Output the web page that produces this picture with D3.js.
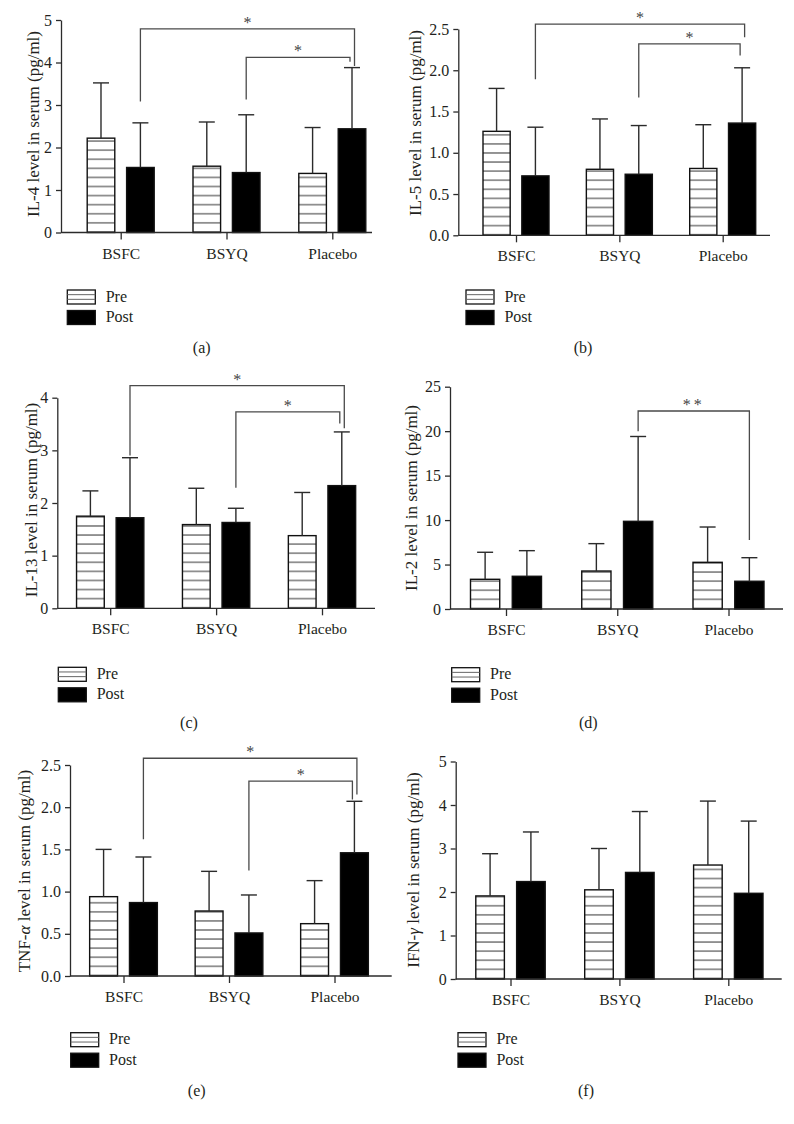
<!DOCTYPE html>
<html>
<head>
<meta charset="utf-8">
<script src="https://cdn.jsdelivr.net/npm/d3@7"></script>
<style>
  body { margin: 0; background: #fff; }
  svg { display: block; }
  text { font-family: "Liberation Serif", "Times New Roman", serif; fill: #231f20; }
</style>
</head>
<body>
<svg id="chart" width="794" height="1124"></svg>
<script>
// ---------------- DATA ----------------
const categories = ["BSFC", "BSYQ", "Placebo"];
const seriesNames = ["Pre", "Post"];

// (a) IL-4
const il4Pre = [2.22, 1.56, 1.39];
const il4PreSD = [1.30, 1.04, 1.08];
const il4Post = [1.53, 1.41, 2.44];
const il4PostSD = [1.05, 1.36, 1.44];
const il4Ticks = [0, 1, 2, 3, 4, 5];
// [from, to, top, leftEnd, rightEnd, label]
const il4Brackets = [["BSFC", "Placebo", 4.79, 3.08, 3.92, "*"], ["BSYQ", "Placebo", 4.12, 3.13, 4.02, "*"]];

// (b) IL-5
const il5Pre = [1.26, 0.80, 0.81];
const il5PreSD = [0.52, 0.61, 0.53];
const il5Post = [0.72, 0.74, 1.36];
const il5PostSD = [0.59, 0.59, 0.67];
const il5Ticks = [0, 0.5, 1.0, 1.5, 2.0, 2.5];
const il5Brackets = [["BSFC", "Placebo", 2.56, 1.89, 2.40, "*"], ["BSYQ", "Placebo", 2.32, 1.67, 2.18, "*"]];

// (c) IL-13
const il13Pre = [1.75, 1.59, 1.38];
const il13PreSD = [0.48, 0.69, 0.82];
const il13Post = [1.72, 1.63, 2.33];
const il13PostSD = [1.14, 0.27, 1.02];
const il13Ticks = [0, 1, 2, 3, 4];
const il13Brackets = [["BSFC", "Placebo", 4.23, 2.90, 3.42, "*"], ["BSYQ", "Placebo", 3.73, 2.29, 3.51, "*"]];

// (d) IL-2
const il2Pre = [3.34, 4.27, 5.25];
const il2PreSD = [3.04, 3.08, 3.97];
const il2Post = [3.68, 9.86, 3.12];
const il2PostSD = [2.88, 9.54, 2.65];
const il2Ticks = [0, 5, 10, 15, 20, 25];
const il2Brackets = [["BSYQ", "Placebo", 22.27, 20.0, 7.76, "**"]];

// (e) TNF-alpha
const tnfPre = [0.94, 0.77, 0.62];
const tnfPreSD = [0.56, 0.47, 0.51];
const tnfPost = [0.87, 0.51, 1.46];
const tnfPostSD = [0.54, 0.45, 0.61];
const tnfTicks = [0, 0.5, 1.0, 1.5, 2.0, 2.5];
const tnfBrackets = [["BSFC", "Placebo", 2.58, 1.62, 2.15, "*"], ["BSYQ", "Placebo", 2.31, 1.25, 2.09, "*"]];

// (f) IFN-gamma
const ifnPre = [1.91, 2.05, 2.62];
const ifnPreSD = [0.97, 0.95, 1.47];
const ifnPost = [2.24, 2.45, 1.97];
const ifnPostSD = [1.14, 1.40, 1.66];
const ifnTicks = [0, 1, 2, 3, 4, 5];
const ifnBrackets = [];

// ---------------- LAYOUT ----------------
const panels = [
  { key: "a", label: [["IL-4 level in serum (pg/ml)", false]], mean: [il4Pre, il4Post], sd: [il4PreSD, il4PostSD], ticks: il4Ticks, fmt: d3.format("d"), brackets: il4Brackets,
    x0: 61, xEnd: 372, c0: 120.7, c2: 332.3, gw: 67, y0: 232.5, yTop: 20, labX: 39, labY: 124, legX: 67.3, legY: 290, capX: 201.7, capY: 353 },
  { key: "b", label: [["IL-5 level in serum (pg/ml)", false]], mean: [il5Pre, il5Post], sd: [il5PreSD, il5PostSD], ticks: il5Ticks, fmt: d3.format(".1f"), brackets: il5Brackets,
    x0: 458.3, xEnd: 770, c0: 516, c2: 722.7, gw: 66, y0: 235.3, yTop: 29, labX: 421, labY: 123, legX: 466, legY: 290, capX: 583, capY: 353 },
  { key: "c", label: [["IL-13 level in serum (pg/ml)", false]], mean: [il13Pre, il13Post], sd: [il13PreSD, il13PostSD], ticks: il13Ticks, fmt: d3.format("d"), brackets: il13Brackets,
    x0: 57.3, xEnd: 375, c0: 110.2, c2: 322, gw: 67.3, y0: 608.3, yTop: 397.7, labX: 36.5, labY: 500, legX: 58.3, legY: 667.3, capX: 189, capY: 728.3 },
  { key: "d", label: [["IL-2 level in serum (pg/ml)", false]], mean: [il2Pre, il2Post], sd: [il2PreSD, il2PostSD], ticks: il2Ticks, fmt: d3.format("d"), brackets: il2Brackets,
    x0: 450, xEnd: 783, c0: 506, c2: 728.5, gw: 71, y0: 609, yTop: 386.7, labX: 417, labY: 498, legX: 451.7, legY: 667.7, capX: 588.3, capY: 728.3 },
  { key: "e", label: [["TNF-", false], ["α", true], [" level in serum (pg/ml)", false]], mean: [tnfPre, tnfPost], sd: [tnfPreSD, tnfPostSD], ticks: tnfTicks, fmt: d3.format(".1f"), brackets: tnfBrackets,
    x0: 70, xEnd: 391.7, c0: 123.5, c2: 334.5, gw: 67.7, y0: 976, yTop: 765, labX: 30, labY: 871, legX: 70.7, legY: 1032.7, capX: 196.7, capY: 1096 },
  { key: "f", label: [["IFN-", false], ["γ", true], [" level in serum (pg/ml)", false]], mean: [ifnPre, ifnPost], sd: [ifnPreSD, ifnPostSD], ticks: ifnTicks, fmt: d3.format("d"), brackets: ifnBrackets,
    x0: 455.7, xEnd: 781.7, c0: 510.5, c2: 728.3, gw: 69.4, y0: 979, yTop: 761.5, labX: 419, labY: 870, legX: 458, legY: 1032.7, capX: 586, capY: 1096 }
];

const svg = d3.select("#chart");
const defs = svg.append("defs");
const AX = "#2b2b2b";
const BR = "#4a4a4a";
const HATCH = 9.08;
const rightDx = [2.5, -2];

panels.forEach(p => {
  const g = svg.append("g").attr("class", "panel-" + p.key);
  const x = d3.scalePoint().domain(categories).range([p.c0, p.c2]);
  const xs = d3.scaleBand().domain(seriesNames).range([-p.gw / 2, p.gw / 2]).paddingInner(0.3);
  const yMax = p.ticks[p.ticks.length - 1];
  const y = d3.scaleLinear().domain([0, yMax]).range([p.y0, p.yTop]);

  // hatch pattern anchored on the axis baseline
  const pat = defs.append("pattern").attr("id", "hatch-" + p.key)
    .attr("patternUnits", "userSpaceOnUse")
    .attr("x", 0).attr("y", p.y0 - 0.6 - HATCH / 2)
    .attr("width", 10).attr("height", HATCH);
  pat.append("rect").attr("width", 10).attr("height", HATCH).attr("fill", "#fff");
  pat.append("line").attr("x1", 0).attr("x2", 10).attr("y1", HATCH / 2).attr("y2", HATCH / 2)
    .attr("stroke", "#333").attr("stroke-width", 1);

  const rows = [];
  categories.forEach((c, i) => seriesNames.forEach((s, j) => {
    rows.push({ c, s, mean: p.mean[j][i], sd: p.sd[j][i] });
  }));
  const bw = xs.bandwidth();

  // bars
  g.selectAll("rect.bar").data(rows).join("rect").attr("class", "bar")
    .attr("x", d => x(d.c) + xs(d.s))
    .attr("y", d => y(d.mean))
    .attr("width", bw)
    .attr("height", d => y(0) - y(d.mean))
    .attr("fill", d => d.s === "Pre" ? "url(#hatch-" + p.key + ")" : "#000")
    .attr("stroke", "#111").attr("stroke-width", 1.4);

  // error bars (upper only)
  const eb = g.selectAll("g.err").data(rows).join("g").attr("class", "err")
    .attr("stroke", AX).attr("stroke-width", 1.4);
  eb.append("line")
    .attr("x1", d => x(d.c) + xs(d.s) + bw / 2).attr("x2", d => x(d.c) + xs(d.s) + bw / 2)
    .attr("y1", d => y(d.mean)).attr("y2", d => y(d.mean + d.sd));
  eb.append("line")
    .attr("x1", d => x(d.c) + xs(d.s) + bw / 2 - 8).attr("x2", d => x(d.c) + xs(d.s) + bw / 2 + 8)
    .attr("y1", d => y(d.mean + d.sd)).attr("y2", d => y(d.mean + d.sd));

  // significance brackets (Post vs Post)
  p.brackets.forEach((b, k) => {
    const xl = x(b[0]) + xs("Post") + bw / 2;
    const xr = x(b[1]) + xs("Post") + bw / 2 + (p.brackets.length > 1 ? rightDx[k] : 0);
    g.append("path")
      .attr("d", `M${xl},${y(b[3])}V${y(b[2])}H${xr}V${y(b[4])}`)
      .attr("fill", "none").attr("stroke", BR).attr("stroke-width", 1.3);
    g.append("text")
      .attr("x", (xl + xr) / 2).attr("y", y(b[2]) - 1)
      .attr("text-anchor", "middle")
      .attr("font-size", 16).style("fill", "#444")
      .attr("letter-spacing", b[5].length > 1 ? 3 : 0)
      .text(b[5]);
  });

  // y axis
  const ya = g.append("g").attr("transform", `translate(${p.x0},0)`)
    .call(d3.axisLeft(y).tickValues(p.ticks).tickFormat(p.fmt).tickSize(5).tickSizeOuter(0).tickPadding(4));
  ya.select(".domain").attr("stroke", AX).attr("stroke-width", 1.3);
  ya.selectAll(".tick line").attr("stroke", AX).attr("stroke-width", 1.3);
  ya.selectAll(".tick text").attr("font-size", 16).attr("font-family", null).style("fill", "#231f20");

  // x axis
  const xa = g.append("g").attr("transform", `translate(0,${p.y0})`)
    .call(d3.axisBottom(x).tickSize(7).tickPadding(8));
  xa.select(".domain").remove();
  xa.selectAll(".tick line").attr("stroke", AX).attr("stroke-width", 1.3);
  xa.selectAll(".tick text").attr("font-size", 15.5).attr("font-family", null).style("fill", "#231f20");
  g.append("line").attr("x1", p.x0).attr("x2", p.xEnd).attr("y1", p.y0).attr("y2", p.y0)
    .attr("stroke", AX).attr("stroke-width", 1.3);

  // y label
  const yl = g.append("text")
    .attr("transform", `translate(${p.labX},${p.labY}) rotate(-90)`)
    .attr("text-anchor", "middle").attr("font-size", 17);
  p.label.forEach(([t, it]) => {
    yl.append("tspan").attr("font-style", it ? "italic" : "normal").text(t);
  });

  // legend
  const lg = g.append("g").attr("transform", `translate(${p.legX},${p.legY})`);
  seriesNames.forEach((s, j) => {
    const oy = j * 20.5;
    lg.append("rect").attr("x", 0).attr("y", oy).attr("width", 28).attr("height", 14)
      .attr("fill", s === "Pre" ? "#fff" : "#000").attr("stroke", "#111").attr("stroke-width", 1.3);
    if (s === "Pre") {
      [14 / 3, 28 / 3].forEach(h => lg.append("line").attr("x1", 0).attr("x2", 28)
        .attr("y1", oy + h).attr("y2", oy + h).attr("stroke", "#666").attr("stroke-width", 1));
    }
    lg.append("text").attr("x", 38.4).attr("y", oy + 11.5).attr("font-size", 16).text(s);
  });

  // caption
  g.append("text").attr("x", p.capX).attr("y", p.capY).attr("text-anchor", "middle")
    .attr("font-size", 16).text("(" + p.key + ")");
});
</script>
</body>
</html>
